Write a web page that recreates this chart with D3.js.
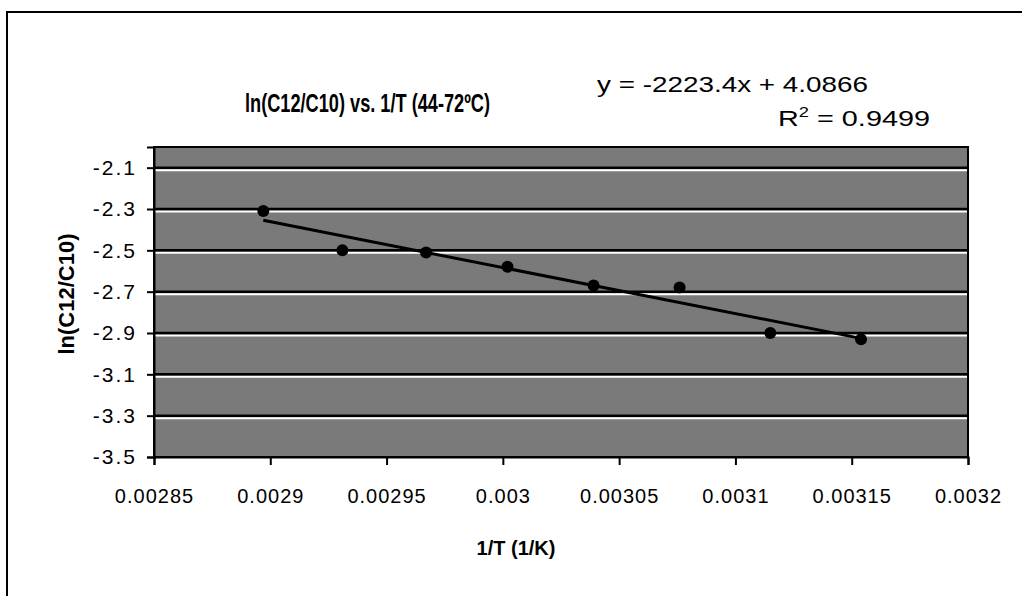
<!DOCTYPE html>
<html>
<head>
<meta charset="utf-8">
<script src="https://cdn.jsdelivr.net/npm/d3@7"></script>
<style>
  body { margin: 0; background: #fff; }
  svg { display: block; font-family: "Liberation Sans", Arial, sans-serif; }
</style>
</head>
<body>
<script>
// 1/T values (1/K) for 72, 68, ... 44 C
const invT = [0.002897, 0.002931, 0.002967, 0.003002, 0.003039, 0.003076, 0.003115, 0.003154];
// ln(C12/C10)
const lnRatio = [-2.31, -2.50, -2.51, -2.58, -2.67, -2.68, -2.90, -2.93];

const xTicks = [0.00285, 0.0029, 0.00295, 0.003, 0.00305, 0.0031, 0.00315, 0.0032];
const yTicks = [-2.1, -2.3, -2.5, -2.7, -2.9, -3.1, -3.3, -3.5];

const slope = -2223.4;
const intercept = 4.0866;
const rSquared = 0.9499;

const width = 1029, height = 596;
const plot = { left: 154, right: 968, top: 147, bottom: 457 };

const svg = d3.select("body")
  .append("svg")
  .attr("width", width)
  .attr("height", height);

// outer chart border (left + top visible in the scan)
svg.append("path")
  .attr("d", `M7,${height} L7,12 L1022,12`)
  .attr("fill", "none")
  .attr("stroke", "#000")
  .attr("stroke-width", 2);

const x = d3.scaleLinear().domain([0.00285, 0.0032]).range([plot.left, plot.right]);
const y = d3.scaleLinear().domain([-3.5, -2.0]).range([plot.bottom, plot.top]);

// plot area
svg.append("rect")
  .attr("x", plot.left)
  .attr("y", plot.top)
  .attr("width", plot.right - plot.left)
  .attr("height", plot.bottom - plot.top)
  .attr("fill", "#7a7a7a");

// gridlines: light line under a dark one, like the scanned image
const gridVals = yTicks.filter(d => d > -3.5);
const grid = svg.append("g");
grid.selectAll("line.hi")
  .data(gridVals)
  .join("line")
  .attr("class", "hi")
  .attr("x1", plot.left).attr("x2", plot.right)
  .attr("y1", d => y(d) + 2.5).attr("y2", d => y(d) + 2.5)
  .attr("stroke", "#fff").attr("stroke-width", 2);
grid.selectAll("line.lo")
  .data(gridVals)
  .join("line")
  .attr("class", "lo")
  .attr("x1", plot.left).attr("x2", plot.right)
  .attr("y1", d => y(d)).attr("y2", d => y(d))
  .attr("stroke", "#000").attr("stroke-width", 2.5);

// plot border
svg.append("rect")
  .attr("x", plot.left)
  .attr("y", plot.top)
  .attr("width", plot.right - plot.left)
  .attr("height", plot.bottom - plot.top)
  .attr("fill", "none")
  .attr("stroke", "#000")
  .attr("stroke-width", 2);

// trendline
const xExt = d3.extent(invT);
svg.append("line")
  .attr("x1", x(xExt[0])).attr("y1", y(slope * xExt[0] + intercept))
  .attr("x2", x(xExt[1])).attr("y2", y(slope * xExt[1] + intercept))
  .attr("stroke", "#000")
  .attr("stroke-width", 3);

// points
svg.append("g")
  .selectAll("circle")
  .data(invT.map((d, i) => [d, lnRatio[i]]))
  .join("circle")
  .attr("cx", d => x(d[0]))
  .attr("cy", d => y(d[1]))
  .attr("r", 6)
  .attr("fill", "#000");

// axes
const xAxis = svg.append("g")
  .attr("transform", `translate(0,${plot.bottom})`)
  .call(d3.axisBottom(x).tickValues(xTicks).tickFormat(d => String(+d.toFixed(5))).tickSize(8).tickPadding(24));
const yAxis = svg.append("g")
  .attr("transform", `translate(${plot.left},0)`)
  .call(d3.axisLeft(y).tickValues(yTicks).tickFormat(d => d.toFixed(1)).tickSize(7).tickPadding(10));

[xAxis, yAxis].forEach(g => {
  g.select(".domain").attr("stroke", "#000").attr("stroke-width", 2);
  g.selectAll(".tick line").attr("stroke", "#000").attr("stroke-width", 2);
  g.selectAll(".tick text")
    .attr("fill", "#000")
    .style("font-size", "20px")
    .style("letter-spacing", "1px");
});
yAxis.selectAll(".tick text").style("font-size", "21px").style("letter-spacing", "2px");

// titles
svg.append("text")
  .attr("x", 245).attr("y", 112)
  .attr("textLength", 245)
  .attr("lengthAdjust", "spacingAndGlyphs")
  .style("font-size", "25px").style("font-weight", "bold")
  .text("ln(C12/C10) vs. 1/T (44-72ºC)");

svg.append("text")
  .attr("x", 597).attr("y", 92)
  .attr("textLength", 271)
  .attr("lengthAdjust", "spacingAndGlyphs")
  .style("font-size", "22px")
  .text(`y = ${slope}x + ${intercept}`);

const r2 = svg.append("text")
  .attr("x", 778).attr("y", 126)
  .attr("textLength", 152)
  .attr("lengthAdjust", "spacingAndGlyphs")
  .style("font-size", "22px");
r2.append("tspan").text("R");
r2.append("tspan").attr("dy", -9).style("font-size", "14px").text("2");
r2.append("tspan").attr("dy", 9).text(` = ${rSquared}`);

svg.append("text")
  .attr("transform", "translate(74,294) rotate(-90)")
  .attr("text-anchor", "middle")
  .style("font-size", "22px").style("font-weight", "bold")
  .text("ln(C12/C10)");

svg.append("text")
  .attr("x", 516).attr("y", 555)
  .attr("text-anchor", "middle")
  .style("font-size", "20px").style("font-weight", "bold")
  .text("1/T (1/K)");
</script>
</body>
</html>
